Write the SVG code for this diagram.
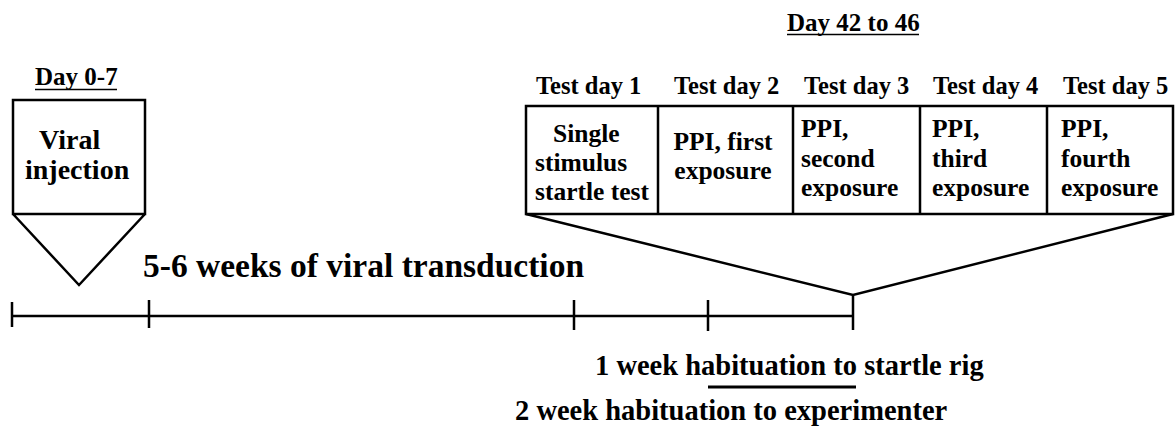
<svg xmlns="http://www.w3.org/2000/svg" width="1176" height="431" viewBox="0 0 1176 431">
<style>
text{font-family:"Liberation Serif","Times New Roman",serif;font-weight:bold;fill:#000}
.s{stroke:#000;stroke-width:2.5;fill:none}
.lbl{font-size:25px}
.hd{font-size:24.5px}
.bx{font-size:25.5px}
.big{font-size:28px}
.bot{font-size:28.5px}
.ul{stroke:#000;stroke-width:1.6}
</style>
<rect width="1176" height="431" fill="#fff"/>
<g id="injection">
<text class="lbl" x="35" y="85">Day 0-7</text>
<line class="ul" x1="35" y1="89.5" x2="117" y2="89.5"/>
<path class="s" d="M13,100 H145 V214 H13 Z M13,214 L79,285 L145,214"/>
<text class="big" x="39" y="149">Viral</text>
<text class="big" x="25" y="179">injection</text>
</g>
<g id="testdays">
<text class="lbl" x="787" y="31">Day 42 to 46</text>
<line class="ul" x1="787" y1="34.5" x2="919" y2="34.5"/>
<text class="hd" x="536" y="94">Test day 1</text>
<text class="hd" x="674" y="94">Test day 2</text>
<text class="hd" x="804" y="94">Test day 3</text>
<text class="hd" x="933" y="94">Test day 4</text>
<text class="hd" x="1063" y="94">Test day 5</text>
<path class="s" d="M526,106 H1173 V214 H526 Z M658,106 V214 M793,106 V214 M920,106 V214 M1047,106 V214"/>
<path class="s" d="M526,214 L853,295 L1173,214"/>
<text class="bx" x="553" y="142">Single</text>
<text class="bx" x="535" y="171">stimulus</text>
<text class="bx" x="535" y="200">startle test</text>
<text class="bx" x="723" y="150" text-anchor="middle">PPI, first</text>
<text class="bx" x="723" y="179" text-anchor="middle">exposure</text>
<text class="bx" x="801" y="137">PPI,</text>
<text class="bx" x="801" y="167">second</text>
<text class="bx" x="801" y="196">exposure</text>
<text class="bx" x="932" y="137">PPI,</text>
<text class="bx" x="932" y="167">third</text>
<text class="bx" x="932" y="196">exposure</text>
<text class="bx" x="1061" y="137">PPI,</text>
<text class="bx" x="1061" y="167">fourth</text>
<text class="bx" x="1061" y="196">exposure</text>
</g>
<g id="timeline">
<text x="143" y="277" style="font-size:33.5px">5-6 weeks of viral transduction</text>
<path class="s" d="M12,316 H853 M12,302 V327 M149,300 V328 M574,300 V330 M708,300 V331 M853,296 V330"/>
<text class="bot" x="595" y="375">1 week habituation to startle rig</text>
<line stroke="#000" stroke-width="3" x1="708" y1="387" x2="856" y2="387"/>
<text class="bot" x="515" y="420">2 week habituation to experimenter</text>
</g>
</svg>
